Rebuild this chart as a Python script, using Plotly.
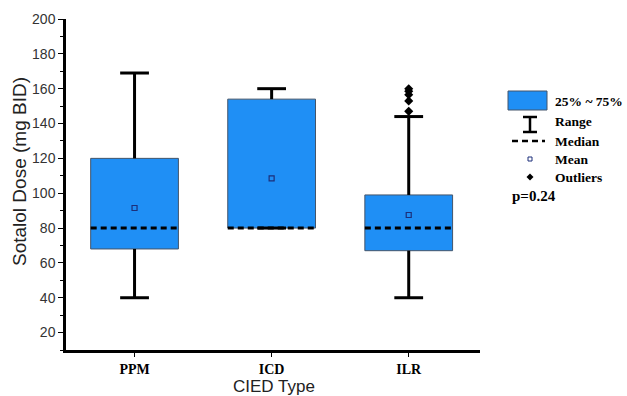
import plotly.graph_objects as go

# ---- data ----
categories = ["PPM", "ICD", "ILR"]
q1 = [68, 80, 67]
median = [80, 80, 80]
q3 = [120, 154, 99]
mean = [91.5, 108.5, 87.5]
whisker_low = [40, 80, 40]
whisker_high = [169, 160, 144]
outlier_cat = ["ILR", "ILR", "ILR", "ILR", "ILR"]
outlier_vals = [147, 153, 156.5, 158.5, 160]
y_ticks = [20, 40, 60, 80, 100, 120, 140, 160, 180, 200]

BLUE = "#1f8ff5"
pos = list(range(len(categories)))
BOX_W = 0.64
CAP_W = 0.21

fig = go.Figure()

# boxes (25%-75%)
fig.add_trace(go.Bar(
    x=pos, base=q1, y=[b - a for a, b in zip(q1, q3)], width=BOX_W,
    marker=dict(color=BLUE, line=dict(color="#44556a", width=1)),
    showlegend=False, hoverinfo="skip"))

# whiskers
wx, wy = [], []
for p, lo, a, b, hi in zip(pos, whisker_low, q1, q3, whisker_high):
    wx += [p, p, None, p, p, None]
    wy += [lo, a, None, b, hi, None]
    wx += [p - CAP_W / 2, p + CAP_W / 2, None, p - CAP_W / 2, p + CAP_W / 2, None]
    wy += [lo, lo, None, hi, hi, None]
fig.add_trace(go.Scatter(x=wx, y=wy, mode="lines",
                         line=dict(color="black", width=3),
                         showlegend=False, hoverinfo="skip"))

# medians (dashed)
mx, my = [], []
for p, m in zip(pos, median):
    mx += [p - BOX_W / 2, p + BOX_W / 2, None]
    my += [m, m, None]
fig.add_trace(go.Scatter(x=mx, y=my, mode="lines",
                         line=dict(color="black", width=3, dash="6px,4px"),
                         showlegend=False, hoverinfo="skip"))

# means
fig.add_trace(go.Scatter(x=pos, y=mean, mode="markers",
                         marker=dict(symbol="square-open", size=5,
                                     color="#1c2f7a", line=dict(width=1.2)),
                         showlegend=False, hoverinfo="skip"))

# outliers
ox = [categories.index(c) for c in outlier_cat]
fig.add_trace(go.Scatter(x=ox, y=outlier_vals, mode="markers",
                         marker=dict(symbol="diamond", size=7, color="black"),
                         showlegend=False, hoverinfo="skip"))

# ---- custom legend (paper coordinates) ----
L, R, T, B = 66, 480, 19, 350
W, H = R - L, B - T
def px(x):
    return (x - L) / W
def py(y):
    return (B - y) / H

shapes = []
shapes.append(dict(type="rect", xref="paper", yref="paper",
                   x0=px(508), x1=px(547), y0=py(110), y1=py(91),
                   fillcolor=BLUE, line=dict(color="#44556a", width=1)))
for (x0, y0, x1, y1) in [(530, 117, 530, 132), (523, 117, 537, 117), (523, 132, 537, 132)]:
    shapes.append(dict(type="line", xref="paper", yref="paper",
                       x0=px(x0), x1=px(x1), y0=py(y0), y1=py(y1),
                       line=dict(color="black", width=2.5)))
shapes.append(dict(type="line", xref="paper", yref="paper",
                   x0=px(512), x1=px(545), y0=py(141), y1=py(141),
                   line=dict(color="black", width=2.5, dash="6px,4px")))
shapes.append(dict(type="rect", xref="paper", yref="paper",
                   x0=px(528), x1=px(532), y0=py(161), y1=py(157),
                   line=dict(color="#1c2f7a", width=1)))
shapes.append(dict(type="path", xref="paper", yref="paper",
                   path=f"M {px(530)},{py(173.5)} L {px(533.5)},{py(177)} L {px(530)},{py(180.5)} L {px(526.5)},{py(177)} Z",
                   fillcolor="black", line=dict(color="black", width=0)))

serif = "Liberation Serif"
annotations = []
for txt, y in [("25% ~ 75%", 101), ("Range", 122), ("Median", 141),
               ("Mean", 159), ("Outliers", 177)]:
    annotations.append(dict(text=txt, xref="paper", yref="paper",
                            x=px(554), y=py(y), xanchor="left", yanchor="middle",
                            showarrow=False, borderpad=0,
                            font=dict(family=serif, size=13.5, color="black", weight="bold")))
annotations.append(dict(text="p=0.24", xref="paper", yref="paper",
                        x=px(511), y=py(196), xanchor="left", yanchor="middle",
                        showarrow=False, borderpad=0,
                        font=dict(family=serif, size=15, color="black", weight="bold")))
# axis titles
annotations.append(dict(text="Sotalol Dose (mg BID)", xref="paper", yref="paper",
                        x=px(19), y=py(172), xanchor="center", yanchor="middle",
                        textangle=-90, showarrow=False,
                        font=dict(family="Liberation Sans", size=19, color="#222")))
annotations.append(dict(text="CIED Type", xref="paper", yref="paper",
                        x=px(274), y=py(386), xanchor="center", yanchor="middle",
                        showarrow=False,
                        font=dict(family="Liberation Sans", size=17, color="#222")))

fig.update_layout(
    width=627, height=396,
    margin=dict(l=L, r=627 - R, t=T, b=396 - B),
    paper_bgcolor="white", plot_bgcolor="white",
    shapes=shapes, annotations=annotations,
    showlegend=False, barmode="overlay",
    xaxis=dict(range=[-0.5, 2.52], tickvals=pos, ticktext=categories,
               tickfont=dict(family=serif, size=14, color="black", weight="bold"),
               showline=True, linecolor="black", linewidth=2.5,
               ticks="outside", ticklen=4, tickwidth=1, tickcolor="black",
               showgrid=False, zeroline=False, automargin=False),
    yaxis=dict(range=[10, 200], tickvals=y_ticks,
               tickfont=dict(family="Liberation Sans", size=14, color="#333"),
               showline=True, linecolor="black", linewidth=2.5,
               ticks="outside", ticklen=5, tickwidth=1, tickcolor="black",
               minor=dict(dtick=10, ticks="outside", ticklen=3, tickcolor="black"),
               showgrid=False, zeroline=False, automargin=False),
)

fig.write_html("out.html", config={"displayModeBar": False},
               post_script="document.body.style.margin='0';document.body.style.overflow='hidden';")
